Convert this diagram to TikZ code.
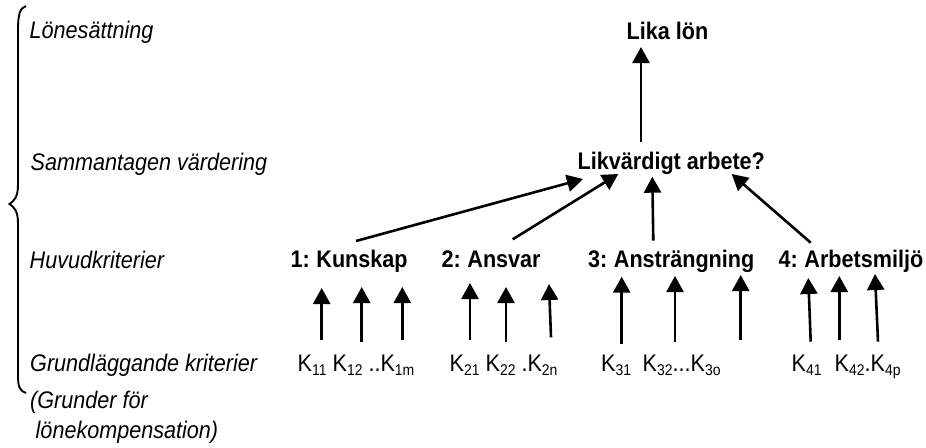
\documentclass[tikz,border=0pt]{standalone}
\usepackage{fontspec}
\setmainfont{Liberation Sans}[FakeStretch=0.9]
\usetikzlibrary{arrows.meta}

% subscript set lower and smaller, as in the K labels
\newcommand{\ksub}[1]{\raisebox{-3.8pt}{\fontsize{15.5}{15.5}\selectfont #1}}

\tikzset{
  lvl/.style={anchor=base west, inner sep=0pt, font=\fontsize{24}{28}\selectfont\itshape},
  head/.style={anchor=base west, inner sep=0pt, font=\fontsize{24}{28}\selectfont\bfseries},
  krit/.style={anchor=base west, inner sep=0pt, font=\fontsize{24}{28}\selectfont},
  arr/.style={line width=2.6pt, -{Triangle[length=16pt,width=17pt]}},
  bracestyle/.style={line width=1.9pt}
}

\begin{document}
\begin{tikzpicture}[x=1pt, y=-1pt]
\useasboundingbox (0,0) rectangle (926,447);

% level names on the left
\node[lvl] (l1) at (29.5,38) {Lönesättning};
\node[lvl] (l2) at (30.5,170) {Sammantagen värdering};
\node[lvl] (l3) at (29.5,268) {Huvudkriterier};
\node[lvl] (l4) at (30,371) {Grundläggande kriterier};
\node[lvl] (l5) at (30,408) {(Grunder för};
\node[lvl] (l6) at (35.5,438) {lönekompensation)};

% curly brace grouping the levels
\draw[bracestyle] (26,6) .. controls (20,8) and (18,14) .. (18,30)
  -- (18,185) .. controls (18,197) and (14,201) .. (9.5,204)
  .. controls (14,207) and (18,211) .. (18,223)
  -- (18,376) .. controls (18,387) and (20,391) .. (26,393);

% heading nodes
\node[head] (lika) at (626.5,39) {Lika lön};
\node[head] (likv) at (577.5,169) {Likvärdigt arbete?};
\node[head] (kun) at (290.5,267) {1:\hspace{-1.5pt} Kunskap};
\node[head] (ans) at (441.5,267) {2:\hspace{-1.5pt} Ansvar};
\node[head] (anst) at (588,267) {3:\hspace{-1.5pt} Ansträngning};
\node[head] (arb) at (778.5,267) {4:\hspace{-1.5pt} Arbetsmiljö};

% basic criteria
\node[krit] (k1) at (297.5,371.7) {K\ksub{11} K\ksub{12} ..K\ksub{1m}};
\node[krit] (k2) at (449.5,371.7) {K\ksub{21} K\ksub{22} .K\ksub{2n}};
\node[krit] (k3a) at (601,371.7) {K\ksub{31}};
\node[krit] (k3b) at (642.5,371.7) {K\ksub{32}...K\ksub{3o}};
\node[krit] (k4a) at (791.5,371.7) {K\ksub{41}};
\node[krit] (k4b) at (834.5,371.7) {K\ksub{42}.K\ksub{4p}};

% arrow end points
\coordinate (top0) at (641,142);   \coordinate (tip0) at (641,47);
\coordinate (h1) at (356,241);     \coordinate (v1) at (583,179);
\coordinate (h2) at (512.7,239.3); \coordinate (v2) at (618.3,174);
\coordinate (h3) at (653.3,240.7); \coordinate (v3) at (652.3,176.7);
\coordinate (h4) at (810.7,242.7); \coordinate (v4) at (731.7,174);

\draw[arr] (top0) -- (tip0);
\draw[arr] (h1) -- (v1);
\draw[arr] (h2) -- (v2);
\draw[arr] (h3) -- (v3);
\draw[arr] (h4) -- (v4);

% arrows from the basic criteria up to the main criteria
\foreach \n/\xb/\yb/\xt/\yt in {
  a/321.7/340/321.7/288, b/361.7/341.7/361.7/287, c/402.3/340/402.3/287,
  d/470/340/470/283, e/506/341.7/506/287, f/551/337.3/549/284,
  g/621.7/344/621.7/276.7, h/675/341.7/675/276, i/740.7/340/740.7/275,
  j/810.7/341.7/808.3/278, k/839.3/340/839.3/276, l/878/341.7/875/274} {
  \coordinate (s\n) at (\xb,\yb);
  \coordinate (e\n) at (\xt,\yt);
  \draw[arr] (s\n) -- (e\n);
}
\end{tikzpicture}
\end{document}
